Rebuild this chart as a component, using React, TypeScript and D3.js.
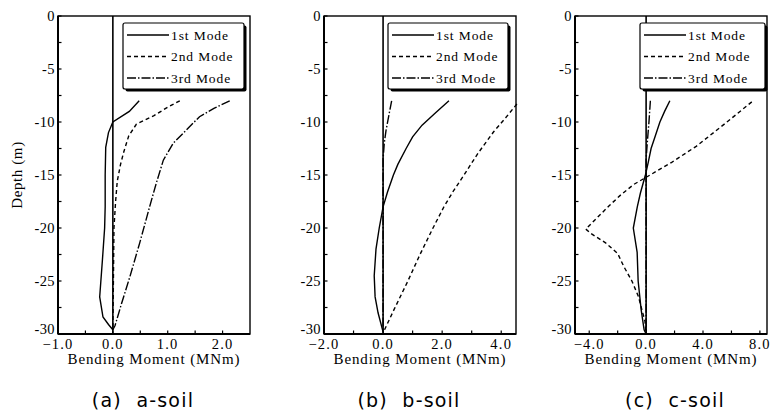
import React from "react";
import * as d3 from "d3";

// Bending moment (MNm) vs depth (m) for the first three modes, three soil profiles.
type Pt = [number, number];

const depthTicks = [0, -5, -10, -15, -20, -25, -30];
const depthMinorTicks = [-2.5, -7.5, -12.5, -17.5, -22.5, -27.5];
const modeNames = ["1st Mode", "2nd Mode", "3rd Mode"];
const captions = ["(a)  a-soil", "(b)  b-soil", "(c)  c-soil"];

// a-soil
const aFirst: Pt[] = [[0.48, -8], [0.3, -9], [0.0, -10], [-0.08, -11], [-0.13, -12.4], [-0.14, -15], [-0.14, -18], [-0.15, -20], [-0.19, -23], [-0.24, -26.5], [-0.18, -28.4], [-0.08, -29.1], [0, -29.6]];
const aSecond: Pt[] = [[1.22, -8.0], [1.0, -8.6], [0.75, -9.4], [0.43, -10.2], [0.29, -11.3], [0.2, -12.8], [0.14, -14], [0.08, -15.6], [0.05, -17.5], [0.02, -20], [0.01, -25], [0, -29.5]];
const aThird: Pt[] = [[2.13, -8], [1.85, -8.7], [1.58, -9.5], [1.34, -10.75], [1.1, -12], [0.92, -13.6], [0.79, -15.8], [0.67, -18], [0.49, -21.4], [0.31, -24.6], [0.16, -27.1], [0.04, -29.2], [0, -29.6]];

// b-soil
const bFirst: Pt[] = [[2.23, -8], [1.75, -9.2], [1.32, -10.3], [1.0, -11.4], [0.78, -12.5], [0.5, -14], [0.35, -15], [0.15, -16.6], [0.0, -18], [-0.13, -20], [-0.24, -22], [-0.3, -24.5], [-0.27, -26.5], [-0.17, -28], [0, -29.8]];
const bSecond: Pt[] = [[4.53, -8.3], [4.15, -9.6], [3.75, -10.9], [3.2, -13], [2.74, -15], [2.36, -16.6], [2.06, -18], [1.69, -20], [1.25, -22.5], [0.84, -25], [0.37, -27.7], [0.05, -29.6]];
const bThird: Pt[] = [[0.29, -8], [0.2, -9.3], [0.1, -10.8], [0.04, -12], [0, -13.5], [0, -29.8]];

// c-soil
const cFirst: Pt[] = [[1.67, -8], [1.3, -9], [0.97, -10], [0.65, -11.3], [0.35, -12.5], [0.15, -13.8], [-0.05, -15], [-0.4, -16.7], [-0.62, -18], [-0.9, -20], [-0.63, -22.3], [-0.56, -25], [-0.35, -27.7], [-0.14, -29.6], [0, -30]];
const cSecond: Pt[] = [[7.43, -8.1], [5.5, -10.2], [3.52, -12.3], [1.8, -13.8], [0.28, -15], [-0.88, -15.9], [-1.8, -16.9], [-2.6, -17.9], [-3.42, -19], [-4.24, -20.1], [-3.9, -20.5], [-2.85, -21.4], [-2.0, -22.4], [-1.58, -23.6], [-1.0, -25], [-0.53, -26.5], [-0.3, -27.7], [-0.08, -28.8], [0, -30]];
const cThird: Pt[] = [[0.3, -8], [0.2, -10], [0.08, -12], [0, -13.5], [0, -30]];

// x-axis setup per panel
const aDomain: [number, number] = [-1, 2.5];
const bDomain: [number, number] = [-2, 4.5];
const cDomain: [number, number] = [-5, 8.5];
const aTicks = [-1, -0.5, 0, 0.5, 1, 1.5, 2];
const bTicks = [-2, -1, 0, 1, 2, 3, 4];
const cTicks = [-4, -2, 0, 2, 4, 6, 8];
const aLabels = [-1, 0, 1, 2];
const bLabels = [-2, 0, 2, 4];
const cLabels = [-4, 0, 4, 8];

const SERIF = "Liberation Serif, Times New Roman, DejaVu Serif, serif";
const SANS = "DejaVu Sans, sans-serif";
const dashes = [null, "4 3", "9 2 1.5 2"];

const TOP = 16;
const BOTTOM = 334;
const PW = 192;

const panels = [
  { left: 58, domain: aDomain, ticks: aTicks, labels: aLabels, series: [aFirst, aSecond, aThird], cap: captions[0], capX: 143, legX: 123, legW: 121, showYTitle: true },
  { left: 324, domain: bDomain, ticks: bTicks, labels: bLabels, series: [bFirst, bSecond, bThird], cap: captions[1], capX: 409, legX: 388, legW: 120, showYTitle: false },
  { left: 575, domain: cDomain, ticks: cTicks, labels: cLabels, series: [cFirst, cSecond, cThird], cap: captions[2], capX: 675, legX: 640, legW: 125, showYTitle: false },
];

const serif = (size: number, spacing: number) => ({ fontFamily: SERIF, fontSize: size, letterSpacing: spacing });

function Panel({ p }: { p: (typeof panels)[number] }) {
  const x = d3.scaleLinear().domain(p.domain).range([p.left, p.left + PW]);
  const y = d3.scaleLinear().domain([0, -30]).range([TOP, BOTTOM]);
  const line = d3.line<Pt>().x((d) => x(d[0])).y((d) => y(d[1]));
  const legY = 23;
  const legH = 66;
  const cx = p.left + PW / 2;
  return (
    <g>
      {/* frame */}
      <rect x={p.left} y={TOP} width={PW} height={BOTTOM - TOP} fill="white" stroke="#000" strokeWidth={1.4} />
      <line x1={p.left} x2={p.left} y1={TOP} y2={BOTTOM} stroke="#000" strokeWidth={2} />
      <line x1={p.left} x2={p.left + PW} y1={BOTTOM} y2={BOTTOM} stroke="#000" strokeWidth={2} />
      {/* zero line */}
      <line x1={x(0)} x2={x(0)} y1={TOP} y2={BOTTOM} stroke="#000" strokeWidth={1.6} />
      {/* y ticks */}
      {depthTicks.concat(depthMinorTicks).map((t) => (
        <line key={"yt" + t} x1={p.left} x2={p.left + 3.5} y1={y(t)} y2={y(t)} stroke="#000" strokeWidth={1.2} />
      ))}
      {depthTicks.map((t) => (
        <text key={"yl" + t} x={p.left - 3} y={y(t) + (t === -30 ? -5 : 0)} dy="0.34em" textAnchor="end" style={serif(14.5, 0.4)}>
          {t}
        </text>
      ))}
      {/* x ticks */}
      {p.ticks.map((t) => (
        <line key={"xt" + t} x1={x(t)} x2={x(t)} y1={BOTTOM} y2={BOTTOM - 3.5} stroke="#000" strokeWidth={1.2} />
      ))}
      {p.labels.map((t) => (
        <text key={"xl" + t} x={x(t)} y={349} textAnchor="middle" style={serif(14.5, 1.2)}>
          {d3.format(".1f")(t)}
        </text>
      ))}
      <text x={cx} y={364} textAnchor="middle" style={serif(15, 0.9)}>
        Bending Moment (MNm)
      </text>
      {p.showYTitle && (
        <text transform={`translate(22,${(TOP + BOTTOM) / 2}) rotate(-90)`} textAnchor="middle" style={serif(15, 0.6)}>
          Depth (m)
        </text>
      )}
      {/* mode curves */}
      {p.series.map((s, i) => (
        <path key={"s" + i} d={line(s) || ""} fill="none" stroke="#000" strokeWidth={1.4} strokeDasharray={dashes[i] || undefined} />
      ))}
      {/* legend */}
      <rect x={p.legX + 2.5} y={legY + 2.5} width={p.legW} height={legH} rx={2} fill="#000" />
      <rect x={p.legX} y={legY} width={p.legW} height={legH} rx={2} fill="white" stroke="#000" strokeWidth={1.2} />
      {modeNames.map((m, i) => {
        const ly = legY + 12 + i * 21.5;
        return (
          <g key={m}>
            <line x1={p.legX + 4} x2={p.legX + 46} y1={ly} y2={ly} stroke="#000" strokeWidth={1.3} strokeDasharray={dashes[i] || undefined} />
            <text x={p.legX + 48} y={ly} dy="0.35em" style={serif(13.5, 0.9)}>
              {m}
            </text>
          </g>
        );
      })}
      {/* caption */}
      <text x={p.capX} y={407} textAnchor="middle" style={{ fontFamily: SANS, fontSize: 19, letterSpacing: 1.2, whiteSpace: "pre" }}>
        {p.cap}
      </text>
    </g>
  );
}

export default function App() {
  return (
    <svg width={775} height={416} style={{ position: "absolute", left: 0, top: 0, background: "white" }}>
      <rect width={775} height={416} fill="white" />
      {panels.map((p, i) => (
        <Panel key={i} p={p} />
      ))}
    </svg>
  );
}
